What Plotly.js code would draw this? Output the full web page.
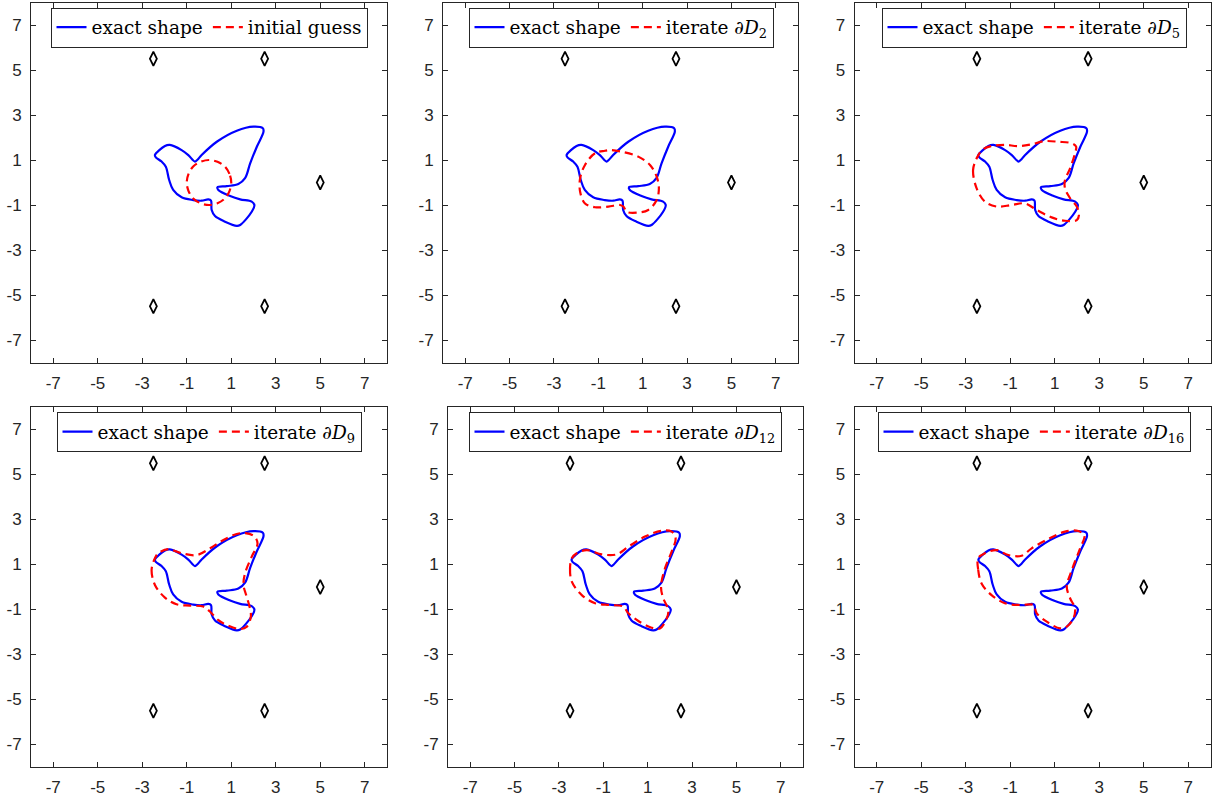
<!DOCTYPE html>
<html>
<head>
<meta charset="utf-8">
<script src="https://cdn.plot.ly/plotly-3.0.1.min.js"></script>
<style>html,body{margin:0;padding:0;background:#fff;}#chart{width:1214px;height:796px;}</style>
</head>
<body>
<div id="chart"></div>
<script>
// Exact shape (dove), closed curve
const exactX = [-2.43,-1.98,-1.76,-1.23,-0.93,-0.63,-0.53,-0.33,0.35,1.25,2.00,2.42,2.45,2.15,1.85,1.62,1.32,0.80,0.38,0.42,0.95,1.40,1.92,2.04,1.92,1.40,1.25,0.72,0.27,0.12,0.09,-0.03,-0.33,-0.71,-1.23,-1.61,-1.79,-1.94,-2.13,-2.39,-2.43];
const exactY = [1.22,1.62,1.67,1.44,1.22,0.93,1.00,1.22,1.81,2.30,2.48,2.41,2.26,1.59,0.85,0.19,-0.07,-0.16,-0.21,-0.33,-0.60,-0.75,-0.85,-1.00,-1.30,-1.89,-1.93,-1.74,-1.49,-1.22,-0.81,-0.75,-0.81,-0.78,-0.66,-0.33,0.11,0.70,0.93,1.12,1.22];

// Initial guess (circle)
const guessX = [1.00,0.92,0.71,0.38,0.00,-0.38,-0.71,-0.92,-1.00,-0.92,-0.71,-0.38,0.00,0.38,0.71,0.92,1.00];
const guessY = [0.00,0.38,0.71,0.92,1.00,0.92,0.71,0.38,0.00,-0.38,-0.71,-0.92,-1.00,-0.92,-0.71,-0.38,0.00];

const iter2X = [-0.70,-1.15,-1.60,-1.82,-1.82,-1.60,-1.15,-0.55,-0.02,0.13,0.28,0.73,1.25,1.63,1.73,1.63,1.33,0.80,0.05,-0.47,-0.70];
const iter2Y = [1.41,1.30,0.78,0.19,-0.41,-0.93,-1.10,-1.07,-1.00,-1.07,-1.30,-1.34,-1.22,-0.78,-0.26,0.26,0.78,1.15,1.37,1.44,1.41];

const iter5X = [-2.47,-2.67,-2.51,-2.14,-1.61,-0.94,-0.34,0.19,0.86,1.46,1.99,2.09,1.99,1.69,1.46,1.46,1.69,1.91,1.96,1.77,1.16,0.56,-0.04,-0.64,-1.24,-1.84,-2.22,-2.47];
const iter5Y = [1.15,0.56,-0.26,-0.85,-1.07,-1.00,-0.93,-1.22,-1.55,-1.70,-1.67,-1.44,-1.07,-0.70,-0.26,0.11,0.63,1.30,1.59,1.74,1.81,1.84,1.70,1.62,1.67,1.62,1.48,1.15];

const iter9X = [-2.43,-2.58,-2.43,-1.98,-1.46,-0.86,-0.26,0.05,0.42,0.87,1.40,1.70,1.88,1.82,1.67,1.55,1.62,1.92,2.18,2.00,1.40,0.65,0.05,-0.55,-1.23,-1.83,-2.28,-2.43];
const iter9Y = [1.28,0.76,0.09,-0.47,-0.77,-0.83,-0.87,-1.10,-1.47,-1.72,-1.87,-1.76,-1.32,-0.87,-0.36,0.09,0.61,1.35,1.94,2.28,2.39,2.09,1.72,1.42,1.50,1.68,1.50,1.28];

const iter12X = [-2.42,-2.50,-2.42,-1.97,-1.37,-0.70,-0.10,0.13,0.58,1.18,1.55,1.86,1.93,1.70,1.60,1.78,2.08,2.26,2.08,1.63,0.88,0.13,-0.40,-1.07,-1.75,-2.20,-2.42];
const iter12Y = [1.28,0.83,0.24,-0.36,-0.72,-0.80,-0.87,-1.17,-1.51,-1.81,-1.84,-1.39,-1.02,-0.50,0.01,0.83,1.57,2.16,2.46,2.50,2.24,1.79,1.45,1.45,1.64,1.50,1.28];

const iter16X = [-2.44,-2.44,-2.29,-1.84,-1.24,-0.56,0.04,0.19,0.64,1.24,1.54,1.84,1.91,1.69,1.54,1.77,2.14,2.33,2.06,1.46,0.71,-0.04,-0.49,-1.09,-1.61,-2.14,-2.44];
const iter16Y = [1.28,0.76,0.16,-0.36,-0.72,-0.80,-0.80,-1.17,-1.54,-1.84,-1.76,-1.39,-0.95,-0.50,0.01,0.76,1.72,2.28,2.49,2.46,2.13,1.72,1.39,1.42,1.64,1.50,1.28];

// Source / receiver points (diamonds)
const srcX = [-2.5, 2.5, 5, -2.5, 2.5];
const srcY = [5.5, 5.5, 0, -5.5, -5.5];

// Tick values & labels
const tickVals = [-7,-5,-3,-1,1,3,5,7];
const tickText = ['-7','-5','-3','-1','1','3','5','7'];

const iterNames = ['initial guess','iterate ∂<i>D</i><sub>2</sub>','iterate ∂<i>D</i><sub>5</sub>','iterate ∂<i>D</i><sub>9</sub>','iterate ∂<i>D</i><sub>12</sub>','iterate ∂<i>D</i><sub>16</sub>'];
const iterXs = [guessX, iter2X, iter5X, iter9X, iter12X, iter16X];
const iterYs = [guessY, iter2Y, iter5Y, iter9Y, iter12Y, iter16Y];

// Layout geometry (pixels)
const W = 1214, H = 796;
const panels = [
  {x0:31, x1:387, y0:2.5, y1:362.5, lx:209},
  {x0:443, x1:798, y0:2.5, y1:362.5, lx:621},
  {x0:854.5, x1:1210.5, y0:2.5, y1:362.5, lx:1034},
  {x0:31, x1:387, y0:407, y1:767, lx:209},
  {x0:448, x1:803, y0:407, y1:767, lx:625},
  {x0:854.5, x1:1210.5, y0:407, y1:767, lx:1034}
];

const traces = [];
const layout = {
  width: W, height: H,
  margin: {l:0, r:0, t:0, b:0},
  paper_bgcolor: '#fff', plot_bgcolor: '#fff',
  showlegend: true
};
const axColor = '#262626';
const serif = "DejaVu Serif, serif";
const sans = "Liberation Sans, Arial, sans-serif";

panels.forEach((p, i) => {
  const n = i + 1;
  const xa = n === 1 ? 'x' : 'x' + n;
  const ya = n === 1 ? 'y' : 'y' + n;
  const lg = n === 1 ? 'legend' : 'legend' + n;
  traces.push({
    x: exactX, y: exactY, xaxis: xa, yaxis: ya, type: 'scatter', mode: 'lines',
    name: 'exact shape', legend: lg,
    line: {color: '#0000ff', width: 2.2, shape: 'spline', smoothing: 1}
  });
  traces.push({
    x: iterXs[i], y: iterYs[i], xaxis: xa, yaxis: ya, type: 'scatter', mode: 'lines',
    name: iterNames[i], legend: lg,
    line: {color: '#ff0000', width: 2.2, dash: '8px,5px', shape: 'spline', smoothing: 1}
  });
  traces.push({
    x: srcX, y: srcY, xaxis: xa, yaxis: ya, type: 'scatter', mode: 'markers',
    showlegend: false, hoverinfo: 'skip',
    marker: {symbol: 'diamond-tall-open', size: 10, color: '#000', line: {width: 1.7, color: '#000'}}
  });
  const common = {
    range: [-8, 8], tickmode: 'array', tickvals: tickVals, ticktext: tickText,
    ticks: 'inside', ticklen: 5, tickwidth: 1, tickcolor: axColor,
    showline: true, linecolor: axColor, linewidth: 1, mirror: 'ticks',
    showgrid: false, zeroline: false, fixedrange: true,
    tickfont: {family: sans, size: 17, color: axColor},
    ticklabelstandoff: 5
  };
  layout[n === 1 ? 'xaxis' : 'xaxis' + n] = Object.assign({}, common, {
    domain: [p.x0 / W, p.x1 / W], anchor: ya
  });
  layout[n === 1 ? 'yaxis' : 'yaxis' + n] = Object.assign({}, common, {
    domain: [1 - p.y1 / H, 1 - p.y0 / H], anchor: xa
  });
  layout[lg] = {
    x: p.lx / W, y: 1 - (p.y0 + 5) / H, xref: 'paper', yref: 'paper',
    xanchor: 'center', yanchor: 'top', orientation: 'h',
    bgcolor: '#fff', bordercolor: axColor, borderwidth: 1,
    font: {family: serif, size: 18.5, color: '#000'},
    itemwidth: 30, tracegroupgap: 0
  };
});

Plotly.newPlot('chart', traces, layout, {displayModeBar: false, staticPlot: true});
</script>
</body>
</html>
